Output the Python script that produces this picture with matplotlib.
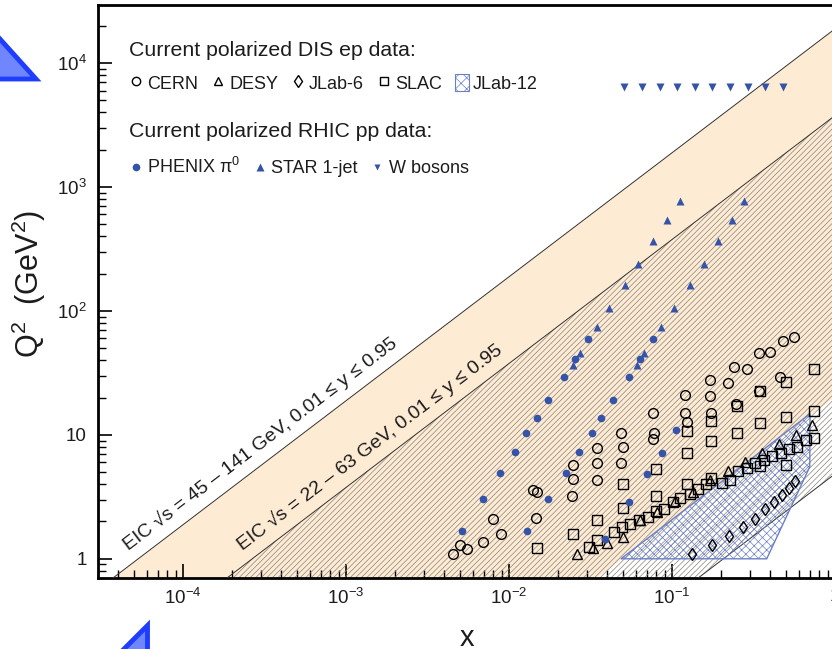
import matplotlib
matplotlib.use('Agg')
import matplotlib.pyplot as plt
import numpy as np
from matplotlib.lines import Line2D
from matplotlib.patches import Polygon, Patch
from matplotlib.ticker import LogLocator, FuncFormatter, NullFormatter

plt.rcParams['font.family'] = ['Liberation Sans', 'DejaVu Sans']
plt.rcParams['mathtext.fontset'] = 'custom'
plt.rcParams['mathtext.rm'] = 'Liberation Sans'
plt.rcParams['mathtext.it'] = 'Liberation Sans:italic'
plt.rcParams['mathtext.bf'] = 'Liberation Sans:bold'
plt.rcParams['hatch.linewidth'] = 0.5

# ---- data ----
# EIC kinematic bands: sqrt(s) in GeV and inelasticity y range
eic_high_sqrts = [45, 141]
eic_low_sqrts = [22, 63]
y_range = [0.01, 0.95]

# CERN (open circles)
cern_x = [0.00455, 0.00497, 0.00548, 0.00695, 0.00796, 0.00897, 0.0140, 0.01486, 0.01466,
          0.0248, 0.0246, 0.0244, 0.0348, 0.0348, 0.0344, 0.0485, 0.0499, 0.0485,
          0.0767, 0.0771, 0.0762, 0.1208, 0.1208, 0.123, 0.171, 0.171, 0.174,
          0.221, 0.240, 0.288, 0.246, 0.340, 0.401, 0.460, 0.478, 0.562, 0.344]
cern_q2 = [1.09, 1.30, 1.20, 1.36, 2.09, 1.58, 3.56, 3.47, 2.13,
           5.73, 4.42, 3.20, 7.78, 5.91, 4.31, 10.3, 7.97, 5.98,
           14.9, 10.3, 9.23, 21.1, 14.9, 12.8, 27.8, 20.7, 15.1,
           26.4, 35.2, 34.1, 17.8, 45.6, 47.0, 29.2, 57.6, 62.1, 22.4]

# DESY (open triangles)
desy_x = [0.0262, 0.0326, 0.0401, 0.0502, 0.0637, 0.0807, 0.1047, 0.134,
          0.172, 0.221, 0.281, 0.358, 0.455, 0.575, 0.721]
desy_q2 = [1.09, 1.22, 1.35, 1.51, 2.04, 2.39, 2.91, 3.49,
           4.30, 5.08, 6.02, 7.12, 8.46, 10.0, 12.0]

# JLab-6 (thin diamonds)
jlab6_x = [0.1334, 0.1754, 0.223, 0.274, 0.322, 0.371, 0.421, 0.472, 0.520, 0.566]
jlab6_q2 = [1.09, 1.30, 1.53, 1.82, 2.11, 2.52, 2.88, 3.28, 3.76, 4.22]

# SLAC (open squares)
slac_x = [0.01493, 0.0248, 0.0308, 0.0348, 0.0348, 0.0438, 0.0490, 0.0497, 0.0497, 0.0552,
          0.0630, 0.0708, 0.0798, 0.0798, 0.0798, 0.0895, 0.1007, 0.112, 0.124, 0.124,
          0.124, 0.129, 0.144, 0.161, 0.174, 0.174, 0.174, 0.202, 0.228, 0.249,
          0.249, 0.255, 0.288, 0.324, 0.347, 0.347, 0.347, 0.368, 0.412, 0.467,
          0.499, 0.499, 0.499, 0.524, 0.588, 0.661, 0.743, 0.743, 0.743]
slac_q2 = [1.22, 1.58, 1.25, 2.05, 1.42, 1.66, 1.79, 2.56, 4.00, 1.92,
           2.04, 2.17, 2.44, 3.24, 5.32, 2.52, 2.88, 3.10, 4.03, 7.12,
           10.8, 3.36, 3.69, 4.05, 4.47, 8.90, 13.0, 4.12, 4.31, 17.1,
           10.4, 5.14, 5.45, 5.91, 5.59, 12.4, 22.4, 6.29, 6.77, 7.09,
           5.76, 14.0, 26.8, 7.71, 8.03, 9.12, 9.51, 15.6, 34.2]

# JLab-12 projected coverage (polygon corners)
jlab12_x = [0.0486, 0.703, 0.70, 0.381]
jlab12_q2 = [1.0, 14.8, 5.52, 1.0]

# PHENIX pi0 (filled circles)
phenix_x = [0.0307, 0.0255, 0.0217, 0.0173, 0.01486, 0.01276, 0.01084, 0.00885, 0.00695, 0.00516,
            0.0767, 0.0640, 0.0546, 0.0437, 0.0369, 0.0321, 0.0270, 0.0223, 0.0173, 0.01294,
            0.106, 0.0863, 0.0703, 0.0542, 0.0386]
phenix_q2 = [59.1, 40.8, 29.2, 19.05, 13.8, 10.3, 7.29, 4.94, 3.03, 1.68,
             59.1, 40.8, 29.2, 19.05, 13.8, 10.3, 7.29, 4.94, 3.03, 1.68,
             10.9, 7.16, 4.80, 2.88, 1.44]

# STAR 1-jet (filled triangles)
star_x = [0.112, 0.0935, 0.0767, 0.0621, 0.0513, 0.0410, 0.0345, 0.0273, 0.0246,
          0.278, 0.233, 0.191, 0.156, 0.128, 0.1026, 0.0859, 0.0676, 0.0612]
star_q2 = [767, 539, 365, 239, 162, 105, 73.6, 45.8, 36.9,
           767, 539, 365, 239, 162, 105, 73.6, 45.8, 36.9]

# W bosons (filled down triangles)
wbos_x = [0.0509, 0.0653, 0.0838, 0.1075, 0.138, 0.177, 0.227, 0.291, 0.374, 0.482]
wbos_q2 = [6460] * 10

# ---- styling ----
peach = '#fdebd4'
blue = '#3553a8'
jblue = '#6a80c6'
tcol = '#1c1c1c'

fig = plt.figure(figsize=(8.32, 6.49), dpi=100)
ax = fig.add_axes([98 / 832, 1 - 578 / 649, (835 - 98) / 832, (578 - 5) / 649])
ax.set_xscale('log')
ax.set_yscale('log')
ax.set_xlim(3.0e-5, 1.0)
ax.set_ylim(0.70, 2.94e4)

xg = np.logspace(-6, 1, 200)
s_hi_lo, s_hi_hi = eic_high_sqrts[0] ** 2, eic_high_sqrts[1] ** 2
s_lo_lo, s_lo_hi = eic_low_sqrts[0] ** 2, eic_low_sqrts[1] ** 2

ax.fill_between(xg, y_range[0] * s_hi_lo * xg, y_range[1] * s_hi_hi * xg,
                facecolor=peach, edgecolor='none', lw=0, zorder=1)
ax.fill_between(xg, y_range[0] * s_lo_lo * xg, y_range[1] * s_lo_hi * xg,
                facecolor='none', edgecolor='#8c837b', lw=0, hatch='//////', zorder=2)
ax.plot(xg, y_range[1] * s_hi_hi * xg, color='#333333', lw=0.7, zorder=3)
ax.plot(xg, y_range[1] * s_lo_hi * xg, color='#333333', lw=0.7, zorder=3)
ax.plot(xg, y_range[0] * s_lo_lo * xg, color='#333333', lw=0.7, zorder=3)

ax.add_patch(Polygon(list(zip(jlab12_x, jlab12_q2)), closed=True, facecolor='none',
                     edgecolor=jblue, lw=1.0, hatch='xxxx', zorder=4))

ax.text(4.6e-5, 1.15, 'EIC \u221as = 45 \u2013 141 GeV, 0.01 \u2264 y \u2264 0.95', rotation=37.3,
        rotation_mode='anchor', ha='left', va='baseline', fontsize=14, color=tcol, zorder=5)
ax.text(2.3e-4, 1.15, 'EIC \u221as = 22 \u2013 63 GeV, 0.01 \u2264 y \u2264 0.95', rotation=37.3,
        rotation_mode='anchor', ha='left', va='baseline', fontsize=14, color=tcol, zorder=5)

open_kw = dict(ls='none', mfc='none', mec='k', mew=1.0, zorder=6)
ax.plot(cern_x, cern_q2, marker='o', ms=7, **open_kw)
ax.plot(slac_x, slac_q2, marker='s', ms=6.5, **open_kw)
ax.plot(desy_x, desy_q2, marker='^', ms=7, **open_kw)
ax.plot(jlab6_x, jlab6_q2, marker='d', ms=6.5, **open_kw)
ax.plot(phenix_x, phenix_q2, ls='none', marker='o', ms=5.5, color=blue, mec='none', zorder=7)
ax.plot(star_x, star_q2, ls='none', marker='^', ms=6, color=blue, mec='none', zorder=7)
ax.plot(wbos_x, wbos_q2, ls='none', marker='v', ms=5.5, color=blue, mec='none', zorder=7)

# ---- axes cosmetics ----
def logfmt(v, pos):
    e = int(round(np.log10(v)))
    if e == 0:
        return '1'
    if e == 1:
        return '10'
    return r'$10^{%d}$' % e

for axis in (ax.xaxis, ax.yaxis):
    axis.set_major_locator(LogLocator(base=10, numticks=20))
    axis.set_minor_locator(LogLocator(base=10, subs=np.arange(2, 10), numticks=20))
    axis.set_major_formatter(FuncFormatter(logfmt))
    axis.set_minor_formatter(NullFormatter())

ax.tick_params(which='both', direction='in', top=False, right=False, colors='k',
               labelcolor=tcol, labelsize=13.5)
ax.tick_params(which='major', length=10, width=1.2)
ax.tick_params(which='minor', length=6, width=1.0)
ax.tick_params(axis='x', pad=7)
ax.tick_params(axis='y', pad=8)
for sp in ax.spines.values():
    sp.set_linewidth(2.0)

ax.set_xlabel('x', fontsize=21, color=tcol, va='baseline')
ax.xaxis.set_label_coords(0.5, (578 - 646) / 573)
ax.set_ylabel('Q$^2$  (GeV$^2$)', fontsize=22, color=tcol, va='center')
ax.yaxis.set_label_coords((29 - 98) / 737, (578 - 284) / 573)

# ---- legends ----
h1 = [Line2D([], [], marker='o', ms=6, **open_kw),
      Line2D([], [], marker='^', ms=6, **open_kw),
      Line2D([], [], marker='d', ms=6, **open_kw),
      Line2D([], [], marker='s', ms=5.5, **open_kw),
      Patch(facecolor='none', edgecolor=jblue, hatch='xxx', lw=0.8)]
leg1 = ax.legend(h1, ['CERN', 'DESY', 'JLab-6', 'SLAC', 'JLab-12'], ncol=5,
                 loc='upper left', bbox_to_anchor=(0.042, 0.938), frameon=False,
                 title='Current polarized DIS ep data:', alignment='left',
                 fontsize=13, title_fontsize=15.3, handlelength=0.75, handleheight=1.1,
                 handletextpad=0.25, columnspacing=0.72, labelspacing=0.8,
                 borderpad=0, borderaxespad=0, labelcolor=tcol)
leg1.get_title().set_color(tcol)
ax.add_artist(leg1)

h2 = [Line2D([], [], ls='none', marker='o', ms=5.5, color=blue, mec='none'),
      Line2D([], [], ls='none', marker='^', ms=5.5, color=blue, mec='none'),
      Line2D([], [], ls='none', marker='v', ms=5, color=blue, mec='none')]
leg2 = ax.legend(h2, ['PHENIX \u03c0$^0$', 'STAR 1-jet', 'W bosons'], ncol=3,
                 loc='upper left', bbox_to_anchor=(0.042, 0.795), frameon=False,
                 title='Current polarized RHIC pp data:', alignment='left',
                 fontsize=13, title_fontsize=15.3, handlelength=0.75,
                 handletextpad=0.25, columnspacing=0.72, labelspacing=0.85,
                 borderpad=0, borderaxespad=0, labelcolor=tcol)
leg2.get_title().set_color(tcol)

# ---- slide decorations (blue corner triangles) ----
W, H = 832, 649
tri1 = [(-10 / W, 1 - 28 / H), (36 / W, 1 - 79 / H), (-10 / W, 1 - 79 / H)]
tri2 = [(147 / W, 1 - 625 / H), (147 / W, 1 - 670 / H), (102 / W, 1 - 670 / H)]
for tri in (tri1, tri2):
    fig.add_artist(Polygon(tri, closed=True, transform=fig.transFigure,
                           facecolor='#6f86ff', edgecolor='#1f3dff', lw=3.5, clip_on=False))

fig.savefig('out.png', dpi=100)
